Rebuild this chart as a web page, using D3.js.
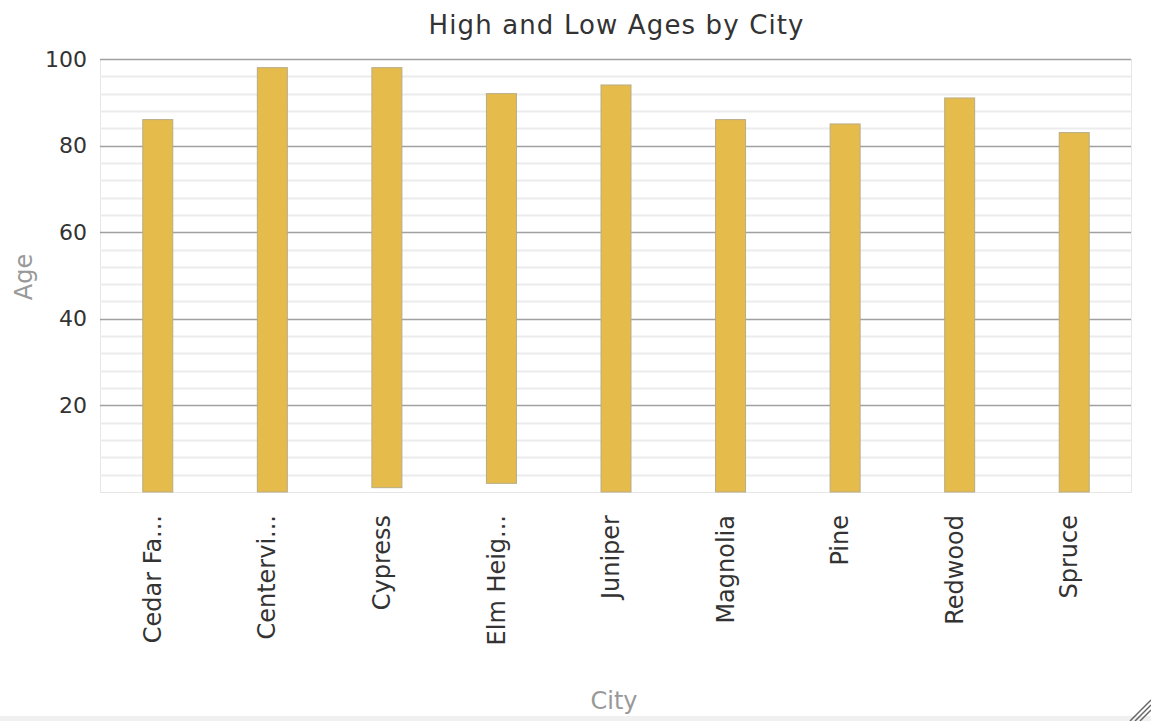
<!DOCTYPE html>
<html>
<head>
<meta charset="utf-8">
<script src="https://cdn.jsdelivr.net/npm/d3@7"></script>
<style>
  html, body { margin: 0; padding: 0; background: #fff; }
  svg { display: block; }
  text { font-family: "DejaVu Sans", Verdana, sans-serif; }
</style>
</head>
<body>
<svg id="chart" width="1151" height="721"></svg>
<script>
const categories = ["Cedar Fa...", "Centervi...", "Cypress", "Elm Heig...", "Juniper", "Magnolia", "Pine", "Redwood", "Spruce"];
const lowAges  = [0, 0, 1, 2, 0, 0, 0, 0, 0];
const highAges = [86, 98, 98, 92, 94, 86, 85, 91, 83];
const majorTicks = [20, 40, 60, 80, 100];
const title = "High and Low Ages by City";
const xTitle = "City";
const yTitle = "Age";

const W = 1151, H = 721;
const m = { left: 100, right: 20, top: 59, bottom: 229 };
const svg = d3.select("#chart");

const x = d3.scaleBand().domain(categories).range([m.left, W - m.right]).paddingInner(0).paddingOuter(0);
const y = d3.scaleLinear().domain([0, 100]).range([H - m.bottom, m.top]);

// bottom strip
svg.append("rect").attr("x", 0).attr("y", 716).attr("width", W).attr("height", 5).attr("fill", "#f0f0f0");

// plot frame
svg.append("rect")
  .attr("x", m.left + 0.5).attr("y", m.top + 0.5)
  .attr("width", W - m.right - m.left).attr("height", y(0) - m.top)
  .attr("fill", "none").attr("stroke", "#e6e6e6").attr("stroke-width", 1);

// minor gridlines
const minor = d3.range(4, 100, 4).filter(v => v % 20 !== 0);
svg.append("g").selectAll("line").data(minor).join("line")
  .attr("x1", m.left).attr("x2", W - m.right)
  .attr("y1", d => Math.round(y(d)) + 0.5).attr("y2", d => Math.round(y(d)) + 0.5)
  .attr("stroke", "#ececec").attr("stroke-width", 2);

// major gridlines
svg.append("g").selectAll("line").data(majorTicks).join("line")
  .attr("x1", m.left).attr("x2", W - m.right)
  .attr("y1", d => Math.round(y(d)) + 0.5).attr("y2", d => Math.round(y(d)) + 0.5)
  .attr("stroke", "#a0a0a0").attr("stroke-width", 1.5);

// y axis
const yAxis = d3.axisLeft(y).tickValues(majorTicks).tickSize(0).tickPadding(13);
const yg = svg.append("g").attr("transform", `translate(${m.left},0)`).call(yAxis);
yg.select(".domain").remove();
yg.selectAll("text").attr("font-size", 22).attr("fill", "#333").attr("font-family", "DejaVu Sans, sans-serif");

// bars
const barW = 30;
const data = categories.map((c, i) => ({ c, lo: lowAges[i], hi: highAges[i] }));
svg.append("g").selectAll("rect").data(data).join("rect")
  .attr("x", d => x(d.c) + x.bandwidth() / 2 - barW / 2 + 0.5)
  .attr("y", d => y(d.hi))
  .attr("width", barW)
  .attr("height", d => y(d.lo) - y(d.hi))
  .attr("fill", "#e5bc4b")
  .attr("stroke", "#b8ab88").attr("stroke-width", 1);

// x axis
const xAxis = d3.axisBottom(x).tickSize(0).tickPadding(0);
const xg = svg.append("g").attr("transform", `translate(0,${y(0)})`).call(xAxis);
xg.select(".domain").remove();
xg.selectAll("text")
  .attr("font-size", 24).attr("fill", "#333").attr("font-family", "DejaVu Sans, sans-serif")
  .attr("text-anchor", "end")
  .attr("transform", "rotate(-90)")
  .attr("x", -23).attr("y", 0).attr("dy", "0.15em");

// titles
svg.append("text").attr("x", 616).attr("y", 34).attr("text-anchor", "middle")
  .attr("font-size", 26).attr("fill", "#333")
  .attr("textLength", 375).attr("lengthAdjust", "spacing").text(title);
svg.append("text").attr("x", 614).attr("y", 709).attr("text-anchor", "middle")
  .attr("font-size", 24).attr("fill", "#999").text(xTitle);
svg.append("text").attr("transform", "translate(32,277) rotate(-90)").attr("text-anchor", "middle")
  .attr("font-size", 24).attr("fill", "#999").text(yTitle);

// resize grip
const grip = svg.append("g").attr("stroke", "#666").attr("stroke-width", 1.5);
[0, 5, 10].forEach(o => {
  grip.append("line").attr("x1", 1130 + o).attr("y1", 721).attr("x2", 1151).attr("y2", 700 + o);
});
</script>
</body>
</html>
